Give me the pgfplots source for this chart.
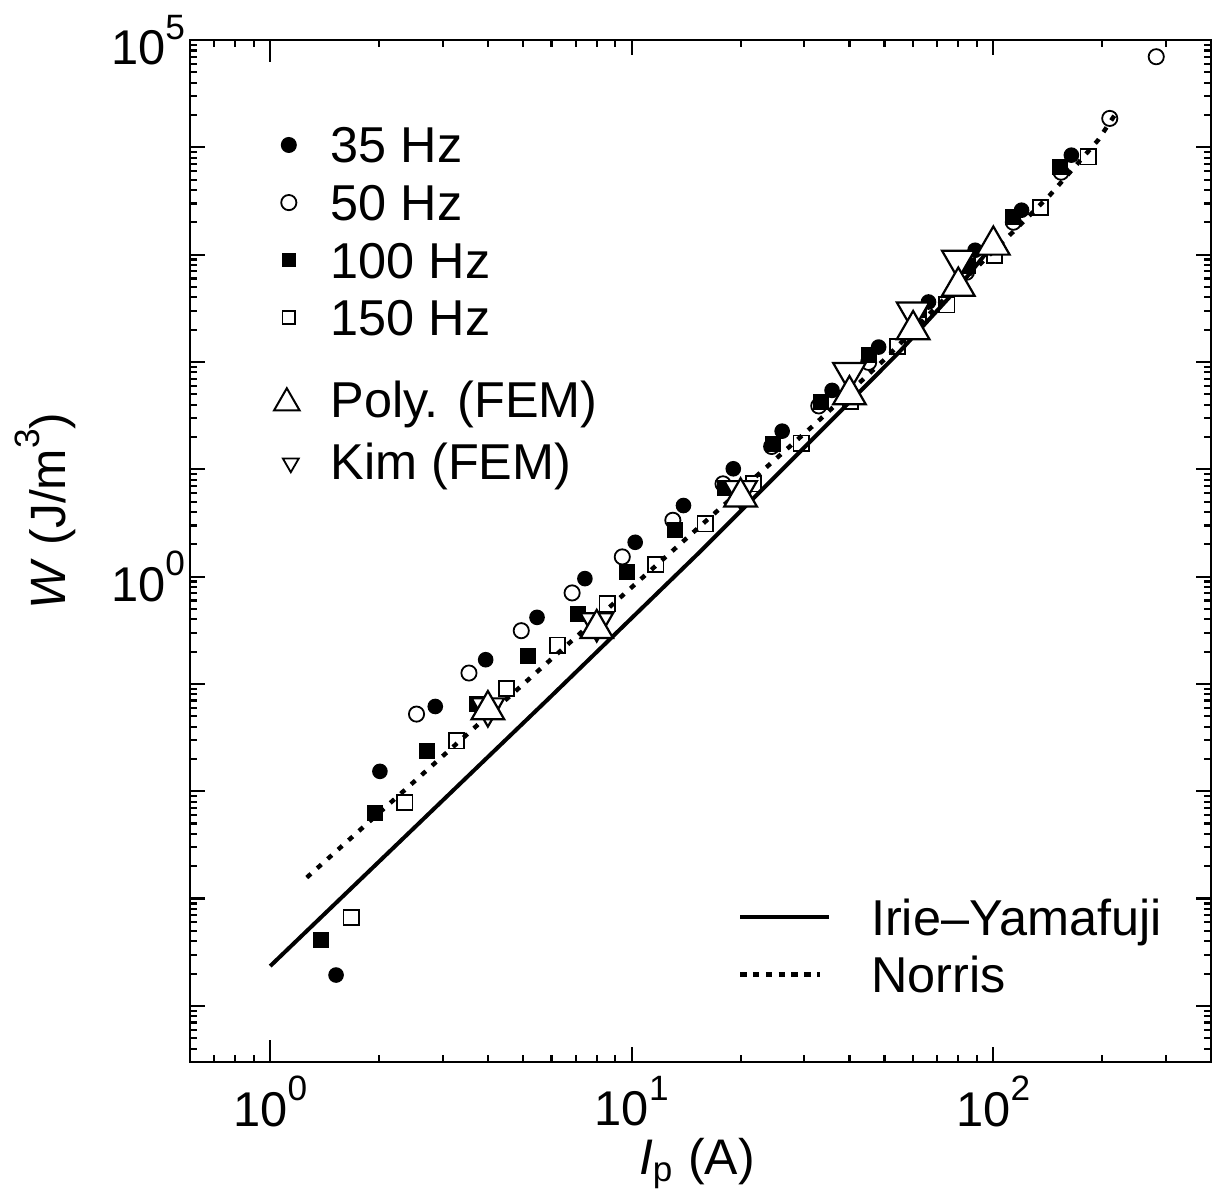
\documentclass[border=0pt]{standalone}
\usepackage{fontspec}
\setmainfont{Liberation Sans}
\usepackage{pgfplots}
\pgfplotsset{compat=1.18}
\newcommand{\ex}[1]{\raisebox{6.4pt}{\fontsize{8.8}{9}\selectfont #1}}
\begin{document}
\begin{tikzpicture}
\begin{axis}[xmode=log, ymode=log,
  scale only axis, width=255.25pt, height=255.5pt,
  xmin=0.6, xmax=400, ymin=3e-5, ymax=1e5,
  at={(0pt,0pt)}, anchor=south west,
  axis line style={line width=0.7pt},
  every tick/.append style={black, line width=0.55pt},
  major tick length=3.75pt, minor tick length=1.75pt,
  xtick={10,100}, xticklabels={10\ex{1},10\ex{2}},
  extra x ticks={1}, extra x tick labels={10\ex{0}},
  extra x tick style={major tick length=5.4pt},
  minor xtick={0.6,0.7,0.8,0.9,2,3,4,5,6,7,8,9,20,30,40,50,60,70,80,90,200,300,400},
  ytick={1e-4,1e-3,1e-2,1e-1,1,10,100,1000,1e4,1e5},
  yticklabels={,,,,10\ex{0},,,,,10\ex{5}},
  minor ytick={3e-5,4e-5,5e-5,6e-5,7e-5,8e-5,9e-5,
    2e-4,3e-4,4e-4,5e-4,6e-4,7e-4,8e-4,9e-4,
    2e-3,3e-3,4e-3,5e-3,6e-3,7e-3,8e-3,9e-3,
    0.02,0.03,0.04,0.05,0.06,0.07,0.08,0.09,
    0.2,0.3,0.4,0.5,0.6,0.7,0.8,0.9,
    2,3,4,5,6,7,8,9,
    20,30,40,50,60,70,80,90,
    200,300,400,500,600,700,800,900,
    2000,3000,4000,5000,6000,7000,8000,9000,
    2e4,3e4,4e4,5e4,6e4,7e4,8e4,9e4},
  tick label style={font=\fontsize{12.2}{14}\selectfont},
  yticklabel style={xshift=2.25pt},
  xlabel={\textit{I}\textsubscript{p} (A)},
  ylabel={\textit{W} (J/m\ex{3})},
  xlabel style={at={(axis description cs:0.4966,-0.099)}, anchor=center, font=\fontsize{12.5}{15}\selectfont},
  ylabel style={at={(axis description cs:-0.1415,0.539)}, anchor=center, font=\fontsize{12.4}{15}\selectfont},
]
% Irie-Yamafuji
\addplot[black, line width=1pt, forget plot] coordinates {
(1,2.35e-4) (2.284,3.40e-3) (5.922,0.0743) (15.36,1.675) (35.74,28.8) (54.7,122) (80.1,496) (100,1250)};
% Norris
\addplot[black, line width=1.1pt, dash pattern=on 1.4pt off 2.1pt, forget plot] coordinates {
(1.262,1.57e-3) (5.922,0.1646) (15.52,2.99) (32.2,26.6) (49.7,103.5) (69.8,330) (119.7,1950) (143.3,3581) (194.9,11670) (216.6,19960)};
% 35 Hz
\addplot[only marks, black, mark=*, mark size=1.75pt, forget plot] coordinates {
(1.521,1.94e-4) (2.011,0.01533) (2.861,0.06166) (3.944,0.1682) (5.470,0.4173) (7.420,0.958)
(10.22,2.089) (13.90,4.596) (19.09,10.11) (26.06,22.67) (35.81,54.34) (48.17,137.7)
(66.18,362.2) (89.03,1099) (119.7,2596) (164.4,8457)};
% 50 Hz
\addplot[only marks, black, mark=o, mark size=1.9pt, line width=0.45pt, forget plot] coordinates {
(2.539,0.05238) (3.546,0.1264) (4.947,0.3135) (6.839,0.7048) (9.414,1.527) (12.99,3.351)
(17.88,7.323) (24.37,16.32) (32.9,38.96) (45.2,99.1) (62.12,255.1) (84.25,685)
(113.6,2005) (154.0,5870) (209.9,18600) (282.2,69870)};
% 100 Hz
\addplot[only marks, black, mark=square*, mark size=1.8pt, forget plot] coordinates {
(1.382,4.11e-4) (1.952,6.328e-3) (2.716,0.02381) (3.736,0.06494) (5.159,0.1833) (7.096,0.4488)
(9.676,1.109) (13.14,2.733) (18.11,6.722) (24.57,17.03) (33.39,42.27) (45.2,115.2)
(62.12,302.9) (85.31,779.5) (113.6,2247) (152.8,6577)};
% 150 Hz
\addplot[only marks, black, mark=square, mark size=1.9pt, line width=0.45pt, forget plot] coordinates {
(1.673,6.637e-4) (2.357,7.842e-3) (3.273,0.02952) (4.506,0.09061) (6.231,0.2306) (8.543,0.5563)
(11.66,1.300) (15.95,3.101) (21.68,7.323) (29.40,17.52) (40.32,42.9) (54.35,139.8)
(74.4,341) (100.6,987) (134.8,2768) (182.9,8154)};
% Kim (FEM)
\addplot[only marks, black, mark=triangle*, mark size=4.7pt, line width=0.55pt,
  mark options={fill=white, rotate=180}, forget plot] coordinates {
(4,0.05998) (8,0.3724) (20,6.342) (40,80.0) (60,293.4) (80,890.5)};
% Poly. (FEM)
\addplot[only marks, black, mark=triangle*, mark size=4.7pt, line width=0.55pt,
  mark options={fill=white}, forget plot] coordinates {
(4,0.0574) (8,0.3273) (20,5.514) (40,49.43) (60,199.7) (80,507) (100,1224)};
\end{axis}
% legend: frequencies
\begin{axis}[xmode=log, ymode=log, scale only axis, width=255.25pt, height=255.5pt,
  xmin=0.6, xmax=400, ymin=3e-5, ymax=1e5, at={(0pt,0pt)}, anchor=south west,
  hide axis, legend cell align=left,
  legend style={draw=none, fill=none, inner sep=0pt, outer sep=0pt,
    font=\fontsize{12.6}{15}\selectfont,
    nodes={inner sep=0pt, text height=9pt, text depth=0pt},
    at={(axis description cs:0.0725,0.9149)}, anchor=north west, row sep=5.4pt, column sep=4.25pt}]
\addlegendimage{legend image code/.code={\path (-6pt,0pt) (6pt,0pt); \draw[black] plot[only marks, mark=*, mark size=1.8pt] coordinates {(0pt,0pt)};}}
\addlegendentry{35 Hz}
\addlegendimage{legend image code/.code={\path (-6pt,0pt) (6pt,0pt); \draw[black, line width=0.45pt] plot[only marks, mark=o, mark size=1.9pt] coordinates {(0pt,0pt)};}}
\addlegendentry{50 Hz}
\addlegendimage{legend image code/.code={\path (-6pt,0pt) (6pt,0pt); \draw[black] plot[only marks, mark=square*, mark size=1.6pt] coordinates {(0pt,0pt)};}}
\addlegendentry{100 Hz}
\addlegendimage{legend image code/.code={\path (-6pt,0pt) (6pt,0pt); \draw[black, line width=0.45pt] plot[only marks, mark=square, mark size=1.6pt] coordinates {(0pt,0pt)};}}
\addlegendentry{150 Hz}
\end{axis}
% legend: FEM
\begin{axis}[xmode=log, ymode=log, scale only axis, width=255.25pt, height=255.5pt,
  xmin=0.6, xmax=400, ymin=3e-5, ymax=1e5, at={(0pt,0pt)}, anchor=south west,
  hide axis, legend cell align=left,
  legend style={draw=none, fill=none, inner sep=0pt, outer sep=0pt,
    font=\fontsize{12.6}{15}\selectfont,
    nodes={inner sep=0pt, text height=9pt, text depth=0pt},
    at={(axis description cs:0.0725,0.6663)}, anchor=north west, row sep=6.5pt, column sep=4.25pt}]
\addlegendimage{legend image code/.code={\path (-6pt,0pt) (6pt,0pt); \draw[black, line width=0.5pt] plot[only marks, mark=triangle, mark size=3.7pt] coordinates {(-0.5pt,-1pt)};}}
\addlegendentry{Poly. (FEM)}
\addlegendimage{legend image code/.code={\path (-6pt,0pt) (6pt,0pt); \draw[black, line width=0.45pt] plot[only marks, mark=triangle, mark size=2.3pt, mark options={rotate=180}] coordinates {(0.5pt,-0.5pt)};}}
\addlegendentry{Kim (FEM)}
\end{axis}
% legend: lines
\begin{axis}[xmode=log, ymode=log, scale only axis, width=255.25pt, height=255.5pt,
  xmin=0.6, xmax=400, ymin=3e-5, ymax=1e5, at={(0pt,0pt)}, anchor=south west,
  hide axis, legend cell align=left,
  legend style={draw=none, fill=none, inner sep=0pt, outer sep=0pt,
    font=\fontsize{12.6}{15}\selectfont,
    nodes={inner sep=0pt, text height=9pt, text depth=0pt},
    at={(axis description cs:0.5367,0.1595)}, anchor=north west, row sep=5.33pt, column sep=10pt}]
\addlegendimage{legend image code/.code={\draw[black, line width=1pt] (0pt,0pt) -- (22.25pt,0pt);}}
\addlegendentry{Irie\textendash Yamafuji}
\addlegendimage{legend image code/.code={\draw[black, line width=1.1pt, dash pattern=on 1.6pt off 1.6pt] (0pt,0pt) -- (20pt,0pt);}}
\addlegendentry{Norris}
\end{axis}
\pgfresetboundingbox
\useasboundingbox (-47.5pt,-34.5pt) rectangle (256.5pt,265.5pt);
\end{tikzpicture}
\end{document}
